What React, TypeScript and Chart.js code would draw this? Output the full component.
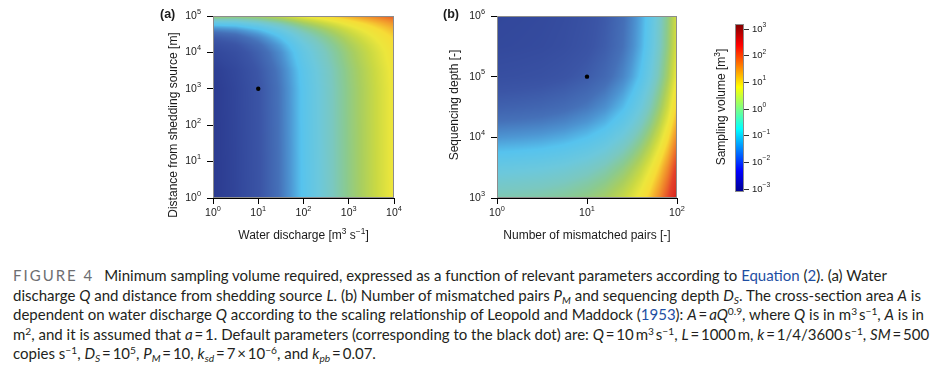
import React, { useEffect, useRef } from "react";
import { Chart, registerables } from "chart.js";

Chart.register(...registerables);

// ---------------- Panel (a): water discharge Q vs distance L ----------------
const dischargeExp = [0, 0.5, 1, 1.5, 2, 2.5, 3, 3.5, 4]; // log10 Q
const distanceExp = [0, 3, 3.5, 4, 4.2, 4.4, 4.5, 4.6, 4.7, 4.8, 4.9, 5]; // log10 L
// log10 sampling volume, one row per distanceExp entry, one column per dischargeExp entry
const volumeA = [
  [-2.7, -2.45, -2.05, -1.55, -0.95, -0.45, 0.05, 0.5, 0.95],
  [-2.67, -2.42, -2.03, -1.53, -0.93, -0.43, 0.07, 0.51, 0.96],
  [-2.61, -2.37, -1.97, -1.48, -0.89, -0.4, 0.1, 0.54, 0.99],
  [-2.4, -2.18, -1.81, -1.34, -0.76, -0.28, 0.2, 0.63, 1.07],
  [-2.22, -2.02, -1.67, -1.21, -0.65, -0.18, 0.29, 0.71, 1.14],
  [-1.94, -1.78, -1.45, -1.01, -0.47, -0.03, 0.43, 0.84, 1.25],
  [-1.75, -1.6, -1.29, -0.88, -0.35, 0.09, 0.53, 0.93, 1.33],
  [-1.5, -1.38, -1.1, -0.7, -0.19, 0.22, 0.65, 1.04, 1.43],
  [-1.19, -1.1, -0.85, -0.48, 0.0, 0.4, 0.81, 1.18, 1.55],
  [-0.8, -0.75, -0.54, -0.2, 0.25, 0.62, 1.0, 1.35, 1.71],
  [-0.31, -0.32, -0.15, 0.15, 0.56, 0.9, 1.25, 1.57, 1.9],
  [0.31, 0.24, 0.34, 0.58, 0.95, 1.24, 1.56, 1.85, 2.15],
];
const ticksDischarge = [1, 10, 100, 1000, 10000];
const ticksDistance = [1, 10, 100, 1000, 10000, 100000];
const defaultPointA = [{ x: 10, y: 1000 }];

// ---------------- Panel (b): mismatched pairs vs sequencing depth ----------------
const mismatchExp = [0, 0.25, 0.5, 0.75, 1, 1.2, 1.4, 1.5, 1.6, 1.7, 1.8, 1.9, 2]; // log10 PM
const depthExp = [3, 3.25, 3.5, 3.75, 4, 4.25, 4.5, 5, 5.5, 6]; // log10 DS
const volumeB = [
  [-0.2, -0.17, -0.13, -0.05, 0.09, 0.27, 0.56, 0.77, 1.02, 1.35, 1.76, 2.27, 2.92],
  [-0.44, -0.41, -0.37, -0.29, -0.15, 0.03, 0.32, 0.53, 0.78, 1.11, 1.52, 2.03, 2.68],
  [-0.7, -0.67, -0.63, -0.55, -0.41, -0.23, 0.06, 0.27, 0.52, 0.85, 1.26, 1.77, 2.42],
  [-1.0, -0.97, -0.93, -0.85, -0.71, -0.53, -0.24, -0.03, 0.22, 0.55, 0.96, 1.47, 2.12],
  [-1.3, -1.27, -1.23, -1.15, -1.01, -0.83, -0.54, -0.33, -0.08, 0.25, 0.66, 1.17, 1.82],
  [-1.58, -1.55, -1.51, -1.43, -1.29, -1.11, -0.82, -0.61, -0.36, -0.03, 0.38, 0.89, 1.54],
  [-1.82, -1.79, -1.75, -1.67, -1.53, -1.35, -1.06, -0.85, -0.6, -0.27, 0.14, 0.65, 1.3],
  [-2.18, -2.15, -2.11, -2.03, -1.89, -1.71, -1.42, -1.21, -0.96, -0.63, -0.22, 0.29, 0.94],
  [-2.35, -2.32, -2.28, -2.2, -2.06, -1.88, -1.59, -1.38, -1.13, -0.8, -0.39, 0.12, 0.77],
  [-2.4, -2.37, -2.33, -2.25, -2.11, -1.93, -1.64, -1.43, -1.18, -0.85, -0.44, 0.07, 0.72],
];
const ticksMismatch = [1, 10, 100];
const ticksDepth = [1000, 10000, 100000, 1000000];
const defaultPointB = [{ x: 10, y: 100000 }];

// ---------------- Colour scales ----------------
const colorbarTicks = [-3, -2, -1, 0, 1, 2, 3];
const colorbarRange = [-3.11, 3.19];
const heatStops = [-3.0, -2.7, -2.4, -2.0, -1.6, -1.3, -1.0, -0.6, -0.3, 0.0, 0.3, 0.6, 0.9, 1.2, 1.5, 1.9, 2.3, 2.7, 3.0];
const heatColors = [
  "#263383", "#2b3a8f", "#32479b", "#3b55a6", "#4570b8", "#4d95d2", "#56c3ee", "#6cc8dc", "#7ac8c0",
  "#8aca90", "#a8ce60", "#cad943", "#ece63c", "#f6dc36", "#f4b02e", "#ee7a2a", "#e4432a", "#dc2e22", "#c42420",
];
const jetStops = [0, 0.125, 0.375, 0.625, 0.875, 1];
const jetColors = ["#00008f", "#0000ff", "#00ffff", "#ffff00", "#ff0000", "#800000"];

// ---------------- helpers ----------------
const AXIS_FONT = '"Liberation Sans", Arial, Helvetica, sans-serif';
const TEXT = "#1a1a1a";

function hexToRgb(h: string): number[] {
  const n = parseInt(h.slice(1), 16);
  return [(n >> 16) & 255, (n >> 8) & 255, n & 255];
}
const heatRGB = heatColors.map(hexToRgb);
const jetRGB = jetColors.map(hexToRgb);

function paletteColor(stops: number[], rgb: number[][], v: number): number[] {
  if (v <= stops[0]) return rgb[0];
  const n = stops.length;
  if (v >= stops[n - 1]) return rgb[n - 1];
  for (let i = 0; i < n - 1; i++) {
    if (v <= stops[i + 1]) {
      const t = (v - stops[i]) / (stops[i + 1] - stops[i]);
      return [0, 1, 2].map((k) => rgb[i][k] + (rgb[i + 1][k] - rgb[i][k]) * t);
    }
  }
  return rgb[n - 1];
}

function locate(arr: number[], v: number): [number, number] {
  const n = arr.length;
  if (v <= arr[0]) return [0, 0];
  if (v >= arr[n - 1]) return [n - 2, 1];
  for (let i = 0; i < n - 1; i++) {
    if (v <= arr[i + 1]) return [i, (v - arr[i]) / (arr[i + 1] - arr[i])];
  }
  return [n - 2, 1];
}

type Seg = { t: string; sup?: boolean };

function drawRich(
  ctx: CanvasRenderingContext2D,
  segs: Seg[],
  x: number,
  y: number,
  align: "left" | "center" | "right",
  size: number,
  weight = "normal"
) {
  const supSize = size * 0.7;
  const widths = segs.map((s) => {
    ctx.font = `${weight} ${s.sup ? supSize : size}px ${AXIS_FONT}`;
    return ctx.measureText(s.t).width;
  });
  const total = widths.reduce((a, b) => a + b, 0);
  let cx = align === "left" ? x : align === "center" ? x - total / 2 : x - total;
  ctx.textAlign = "left";
  ctx.textBaseline = "middle";
  ctx.fillStyle = TEXT;
  segs.forEach((s, i) => {
    ctx.font = `${weight} ${s.sup ? supSize : size}px ${AXIS_FONT}`;
    ctx.fillText(s.t, cx, s.sup ? y - size * 0.4 : y);
    cx += widths[i];
  });
}

function drawRotated(ctx: CanvasRenderingContext2D, segs: Seg[], x: number, y: number, size: number) {
  ctx.save();
  ctx.translate(x, y);
  ctx.rotate(-Math.PI / 2);
  drawRich(ctx, segs, 0, 0, "center", size);
  ctx.restore();
}

function powLabelFromExp(e: number): Seg[] {
  return [{ t: "10" }, { t: e < 0 ? "\u2212" + -e : String(e), sup: true }];
}
function powLabel(v: number): Seg[] {
  return powLabelFromExp(Math.round(Math.log10(v)));
}

interface PanelSpec {
  xs: number[];
  ys: number[];
  zs: number[][];
  xTicks: number[];
  yTicks: number[];
  dot: { x: number; y: number }[];
  letter: string;
  letterX: number;
  xTitle: Seg[];
  yTitle: Seg[];
  yTitleX: number;
  yTitleY: number;
  padding: { left: number; right: number; top: number; bottom: number };
}

function panelConfig(p: PanelSpec): any {
  const heatPlugin = {
    id: "heat",
    beforeDatasetsDraw(chart: any) {
      const { left, top, right, bottom } = chart.chartArea;
      const w = Math.round(right - left);
      const h = Math.round(bottom - top);
      const off = document.createElement("canvas");
      off.width = w;
      off.height = h;
      const octx = off.getContext("2d")!;
      const img = octx.createImageData(w, h);
      const sx = chart.scales.x;
      const sy = chart.scales.y;
      const cols: [number, number][] = [];
      const rows: [number, number][] = [];
      for (let i = 0; i < w; i++) cols.push(locate(p.xs, Math.log10(sx.getValueForPixel(left + i + 0.5))));
      for (let j = 0; j < h; j++) rows.push(locate(p.ys, Math.log10(sy.getValueForPixel(top + j + 0.5))));
      for (let j = 0; j < h; j++) {
        const [rj, rt] = rows[j];
        for (let i = 0; i < w; i++) {
          const [ci, ct] = cols[i];
          const z0 = p.zs[rj][ci] * (1 - ct) + p.zs[rj][ci + 1] * ct;
          const z1 = p.zs[rj + 1][ci] * (1 - ct) + p.zs[rj + 1][ci + 1] * ct;
          const z = z0 * (1 - rt) + z1 * rt;
          const c = paletteColor(heatStops, heatRGB, z);
          const k = (j * w + i) * 4;
          img.data[k] = c[0];
          img.data[k + 1] = c[1];
          img.data[k + 2] = c[2];
          img.data[k + 3] = 255;
        }
      }
      octx.putImageData(img, 0, 0);
      chart.ctx.drawImage(off, left, top);
    },
    afterDatasetsDraw(chart: any) {
      const { left, top, right, bottom } = chart.chartArea;
      const ctx = chart.ctx;
      ctx.save();
      ctx.strokeStyle = "#8c8c8c";
      ctx.lineWidth = 1;
      ctx.strokeRect(left + 0.5, top + 0.5, right - left - 1, bottom - top - 1);
      ctx.restore();
    },
    afterDraw(chart: any) {
      const ctx = chart.ctx;
      const { left, right, bottom } = chart.chartArea;
      const sx = chart.scales.x;
      const sy = chart.scales.y;
      ctx.save();
      p.xTicks.forEach((v) => drawRich(ctx, powLabel(v), sx.getPixelForValue(v), bottom + 15, "center", 10.5));
      p.yTicks.forEach((v) => drawRich(ctx, powLabel(v), left - 12, sy.getPixelForValue(v), "right", 10.5));
      drawRich(ctx, p.xTitle, (left + right) / 2, bottom + 38, "center", 12);
      drawRotated(ctx, p.yTitle, p.yTitleX, p.yTitleY, 12);
      drawRich(ctx, [{ t: p.letter }], p.letterX, 14.5, "left", 12.5, "bold");
      ctx.restore();
    },
  };

  const axisCommon = {
    type: "logarithmic",
    z: 1,
    ticks: { display: false },
    grid: { display: true, drawOnChartArea: false, drawTicks: true, tickLength: 6, color: "#000", lineWidth: 1 },
    border: { display: true, color: "#000", width: 1 },
  };

  return {
    type: "scatter",
    data: {
      datasets: [
        {
          data: p.dot,
          pointRadius: 2.2,
          pointBackgroundColor: "#000",
          pointBorderWidth: 0,
          borderWidth: 0,
        },
      ],
    },
    options: {
      animation: false,
      responsive: false,
      devicePixelRatio: 1,
      events: [],
      layout: { padding: p.padding },
      plugins: { legend: { display: false }, tooltip: { enabled: false } },
      scales: {
        x: {
          ...axisCommon,
          position: "bottom",
          min: p.xTicks[0],
          max: p.xTicks[p.xTicks.length - 1],
          afterBuildTicks: (s: any) => {
            s.ticks = p.xTicks.map((v) => ({ value: v }));
          },
          afterFit: (s: any) => {
            s.height = 10;
          },
        },
        y: {
          ...axisCommon,
          position: "left",
          min: p.yTicks[0],
          max: p.yTicks[p.yTicks.length - 1],
          afterBuildTicks: (s: any) => {
            s.ticks = p.yTicks.map((v) => ({ value: v }));
          },
          afterFit: (s: any) => {
            s.width = 10;
          },
        },
      },
    },
    plugins: [heatPlugin],
  };
}

function colorbarConfig(): any {
  const barPlugin = {
    id: "bar",
    beforeDatasetsDraw(chart: any) {
      const { left, top, right, bottom } = chart.chartArea;
      const ctx = chart.ctx;
      const sy = chart.scales.y;
      const span = colorbarRange[1] - colorbarRange[0];
      for (let j = Math.round(top); j < Math.round(bottom); j++) {
        const v = sy.getValueForPixel(j + 0.5);
        const c = paletteColor(jetStops, jetRGB, (v - colorbarRange[0]) / span);
        ctx.fillStyle = `rgb(${c[0]},${c[1]},${c[2]})`;
        ctx.fillRect(left, j, right - left, 1);
      }
      ctx.save();
      ctx.strokeStyle = "#8c8c8c";
      ctx.lineWidth = 1;
      ctx.strokeRect(left + 0.5, top + 0.5, right - left - 1, bottom - top - 1);
      ctx.restore();
    },
    afterDraw(chart: any) {
      const ctx = chart.ctx;
      const { right } = chart.chartArea;
      const sy = chart.scales.y;
      ctx.save();
      colorbarTicks.forEach((e) => drawRich(ctx, powLabelFromExp(e), right + 8, sy.getPixelForValue(e), "left", 9.5));
      drawRotated(ctx, [{ t: "Sampling volume [m" }, { t: "3", sup: true }, { t: "]" }], 22, 107, 12);
      ctx.restore();
    },
  };
  return {
    type: "scatter",
    data: { datasets: [] },
    options: {
      animation: false,
      responsive: false,
      devicePixelRatio: 1,
      events: [],
      layout: { padding: { left: 35, right: 48, top: 24, bottom: 18 } },
      plugins: { legend: { display: false }, tooltip: { enabled: false } },
      scales: {
        x: { type: "linear", display: false, min: 0, max: 1 },
        y: {
          type: "linear",
          position: "right",
          z: 1,
          min: colorbarRange[0],
          max: colorbarRange[1],
          afterBuildTicks: (s: any) => {
            s.ticks = colorbarTicks.map((v) => ({ value: v }));
          },
          afterFit: (s: any) => {
            s.width = 8;
          },
          ticks: { display: false },
          grid: { display: true, drawOnChartArea: false, drawTicks: true, tickLength: 5, color: "#333", lineWidth: 1 },
          border: { display: false },
        },
      },
    },
    plugins: [barPlugin],
  };
}

const specA: PanelSpec = {
  xs: dischargeExp,
  ys: distanceExp,
  zs: volumeA,
  xTicks: ticksDischarge,
  yTicks: ticksDistance,
  dot: defaultPointA,
  letter: "(a)",
  letterX: 20,
  xTitle: [{ t: "Water discharge [m" }, { t: "3", sup: true }, { t: " s" }, { t: "\u22121", sup: true }, { t: "]" }],
  yTitle: [{ t: "Distance from shedding source [m]" }],
  yTitleX: 34,
  yTitleY: 125,
  padding: { left: 63, right: 26, top: 16, bottom: 42 },
};

const specB: PanelSpec = {
  xs: mismatchExp,
  ys: depthExp,
  zs: volumeB,
  xTicks: ticksMismatch,
  yTicks: ticksDepth,
  dot: defaultPointB,
  letter: "(b)",
  letterX: 18,
  xTitle: [{ t: "Number of mismatched pairs [-]" }],
  yTitle: [{ t: "Sequencing depth [-]" }],
  yTitleX: 30,
  yTitleY: 105,
  padding: { left: 62, right: 23, top: 16, bottom: 42 },
};

const BLUE = "#1f4fa3";
const Sup = ({ children }: { children: any }) => (
  <sup style={{ fontSize: "0.68em", lineHeight: 0, verticalAlign: "0.5em" }}>{children}</sup>
);
const Sub = ({ children }: { children: any }) => (
  <sub style={{ fontSize: "0.68em", lineHeight: 0, verticalAlign: "-0.3em" }}>{children}</sub>
);
const EQ = "\u2009=\u2009";

export default function App() {
  const aRef = useRef<HTMLCanvasElement>(null);
  const bRef = useRef<HTMLCanvasElement>(null);
  const cRef = useRef<HTMLCanvasElement>(null);

  useEffect(() => {
    const charts = [
      new Chart(aRef.current!, panelConfig(specA)),
      new Chart(bRef.current!, panelConfig(specB)),
      new Chart(cRef.current!, colorbarConfig()),
    ];
    return () => charts.forEach((c) => c.destroy());
  }, []);

  const line = { whiteSpace: "nowrap" as const, height: "19.6px" };

  return (
    <div style={{ position: "absolute", left: 0, top: 0, width: 933, height: 368, background: "#fff", overflow: "hidden" }}>
      <canvas ref={aRef} width={280} height={250} style={{ position: "absolute", left: 140, top: 0, width: 280, height: 250 }} />
      <canvas ref={bRef} width={275} height={250} style={{ position: "absolute", left: 425, top: 0, width: 275, height: 250 }} />
      <canvas ref={cRef} width={100} height={210} style={{ position: "absolute", left: 700, top: 0, width: 100, height: 210 }} />
      <div
        style={{
          position: "absolute",
          left: 13,
          top: 266,
          fontFamily: "Lato, 'Open Sans', sans-serif",
          fontSize: 15,
          lineHeight: "19.6px",
          color: "#231f20",
        }}
      >
        <div style={line}>
          <span style={{ color: "#6d6e71", letterSpacing: "2px", marginRight: 10 }}>FIGURE 4</span>
          Minimum sampling volume required, expressed as a function of relevant parameters according to{" "}
          <span style={{ color: BLUE }}>Equation</span> (<span style={{ color: BLUE }}>2</span>). (a) Water
        </div>
        <div style={line}>
          discharge <i>Q</i> and distance from shedding source <i>L</i>. (b) Number of mismatched pairs <i>P</i>
          <Sub>
            <i>M</i>
          </Sub>{" "}
          and sequencing depth <i>D</i>
          <Sub>
            <i>S</i>
          </Sub>
          . The cross-section area <i>A</i> is
        </div>
        <div style={line}>
          dependent on water discharge <i>Q</i> according to the scaling relationship of Leopold and Maddock (
          <span style={{ color: BLUE }}>1953</span>): <i>A</i>
          {EQ}
          <i>aQ</i>
          <Sup>0.9</Sup>, where <i>Q</i> is in m<Sup>3</Sup>
          {"\u2009"}s<Sup>{"\u2212"}1</Sup>, <i>A</i> is in
        </div>
        <div style={line}>
          m<Sup>2</Sup>, and it is assumed that <i>a</i>
          {EQ}1. Default parameters (corresponding to the black dot) are: <i>Q</i>
          {EQ}10{"\u2009"}m<Sup>3</Sup>
          {"\u2009"}s<Sup>{"\u2212"}1</Sup>, <i>L</i>
          {EQ}1000{"\u2009"}m, <i>k</i>
          {EQ}1/4/3600{"\u2009"}s<Sup>{"\u2212"}1</Sup>, <i>SM</i>
          {EQ}500
        </div>
        <div style={line}>
          copies s<Sup>{"\u2212"}1</Sup>, <i>D</i>
          <Sub>
            <i>S</i>
          </Sub>
          {EQ}10<Sup>5</Sup>, <i>P</i>
          <Sub>
            <i>M</i>
          </Sub>
          {EQ}10, <i>k</i>
          <Sub>
            <i>sd</i>
          </Sub>
          {EQ}7{"\u2009"}×{"\u2009"}10<Sup>{"\u2212"}6</Sup>, and <i>k</i>
          <Sub>
            <i>pb</i>
          </Sub>
          {EQ}0.07.
        </div>
      </div>
    </div>
  );
}
